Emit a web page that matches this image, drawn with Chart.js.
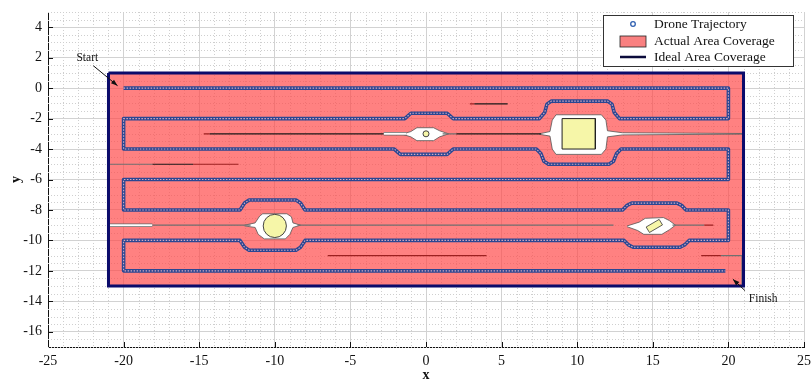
<!DOCTYPE html>
<html>
<head>
<meta charset="utf-8">
<script src="https://cdn.jsdelivr.net/npm/chart.js@4.4.0/dist/chart.umd.min.js"></script>
<style>
  html, body { margin: 0; padding: 0; background: #fff; }
</style>
</head>
<body>
<canvas id="coverageChart" width="811" height="380"></canvas>
<script>
// Axis ticks
let xTicks = [-25, -20, -15, -10, -5, 0, 5, 10, 15, 20, 25];
let yTicks = [-16, -14, -12, -10, -8, -6, -4, -2, 0, 2, 4];

let seriesNames = ["Drone Trajectory", "Actual Area Coverage", "Ideal Area Coverage"];

// Drone trajectory waypoints (lawnmower sweep with detours)
let trajX = [-20, 20, 20,
             12.8, 12.45, 12.3, 12.0, 8.3, 8.0, 7.85, 7.5,
             1.8, 1.4, -1.0, -1.4,
             -20, -20,
             -2.1, -1.7, 1.4, 1.8,
             7.3, 7.6, 7.8, 8.1, 12.1, 12.4, 12.6, 12.9,
             20, 20, -20, -20,
             -12.3, -12.0, -11.7, -8.6, -8.3, -8.0,
             13.0, 13.3, 13.6, 16.6, 16.9, 17.2,
             20, 20,
             17.4, 17.1, 16.8, 13.7, 13.4, 13.1,
             -8.0, -8.3, -8.6, -11.7, -12.0, -12.3,
             -20, -20, 19.8];
let trajY = [0, 0, -2,
             -2, -1.6, -1.05, -0.85, -0.85, -1.05, -1.6, -2,
             -2, -1.65, -1.65, -2,
             -2, -4,
             -4, -4.35, -4.35, -4,
             -4, -4.3, -4.8, -5.0, -5.0, -4.8, -4.3, -4,
             -4, -6, -6, -8,
             -8, -7.55, -7.35, -7.35, -7.55, -8,
             -8, -7.7, -7.55, -7.55, -7.7, -8,
             -8, -10,
             -10, -10.3, -10.45, -10.45, -10.3, -10,
             -10, -10.45, -10.65, -10.65, -10.45, -10,
             -10, -12, -12];

// Coverage area rectangle
let areaX = [-21, 21, 21, -21, -21];
let areaY = [1, 1, -13, -13, 1];

// Uncovered (white) regions around obstacles
let holeDotX = [-1.5, -1.0, -0.6, 0.5, 0.9, 1.5, 0.9, 0.5, -0.6, -1.0, -1.5];
let holeDotY = [-3.0, -2.85, -2.6, -2.6, -2.8, -3.0, -3.2, -3.45, -3.45, -3.2, -3.05];
let holeSquareX = [7.5, 8.2, 8.35, 8.6, 11.6, 11.9, 12.0, 13.0, 21, 21, 13.0, 12.0, 11.9, 11.6, 8.6, 8.35, 8.2, 7.5];
let holeSquareY = [-3.0, -2.85, -2.1, -1.75, -1.75, -2.1, -2.8, -2.93, -2.98, -3.02, -3.07, -3.2, -4.0, -4.35, -4.35, -4.0, -3.15, -3.03];
let holeCircleX = [-12.0, -11.3, -11.0, -10.8, -9.2, -8.9, -8.8, -8.3, -8.8, -9.0, -9.3, -10.7, -11.1, -11.3, -12.0];
let holeCircleY = [-9.0, -8.85, -8.4, -8.25, -8.25, -8.45, -8.85, -9.0, -9.15, -9.6, -9.9, -9.9, -9.6, -9.15, -9.05];
let holeRectX = [13.3, 14.1, 14.5, 15.7, 16.1, 16.5, 16.1, 15.6, 14.4, 14.0, 13.3];
let holeRectY = [-9.05, -8.8, -8.55, -8.5, -8.7, -9.0, -9.3, -9.6, -9.6, -9.35, -9.1];

// Obstacles
let squareX = [9.0, 11.2, 11.2, 9.0, 9.0];
let squareY = [-2.0, -2.0, -4.0, -4.0, -2.0];
let rotRectX = [15.42, 15.64, 14.78, 14.56, 15.42];
let rotRectY = [-8.62, -8.98, -9.48, -9.12, -8.62];
let circleObs = [{x: -10.0, y: -9.05}];
let dotObs = [{x: 0.0, y: -3.0}];

// Thin line traces (null = gap)
let slitX = [-21, -18.1, null, -2.8, -1.3];
let slitY = [-9, -9, null, -3, -3];
let grayX = [-20.9, -18.1, null, -18.1, -11.6, null, -8.5, 12.4, null, 16.3, 18.4, null, 19.5, 20.9, null, 20.9, 20.9, null, 1.1, 2.0];
let grayY = [-5, -5, null, -9, -9, null, -9, -9, null, -9, -9, null, -11, -11, null, -11, -12.9, null, -3, -3];
let blackX = [-14.3, -2.8, null, 2.0, 7.6, null, -18.1, -15.4, null, 3.2, 5.4];
let blackY = [-3, -3, null, -3, -3, null, -5, -5, null, -1.03, -1.03];
let redX = [-14.7, -14.3, null, -15.4, -12.4, null, -6.5, 4.0, null, 18.2, 19.5, null, 18.4, 19.0, null, 2.9, 3.2];
let redY = [-3, -3, null, -5, -5, null, -11, -11, null, -11, -11, null, -9, -9, null, -1.03, -1.03];

// Annotations
let startText = {x: -22.4, y: 1.98}, startArrow = [{x: -22.0, y: 1.47}, {x: -20.4, y: 0.16}];
let finishText = {x: 22.3, y: -13.86}, finishArrow = [{x: 21.1, y: -13.3}, {x: 20.3, y: -12.55}];

const SERIF = "'Liberation Serif', 'DejaVu Serif', serif";

function pts(xs, ys) {
    return xs.map((x, i) => ({x: x, y: ys[i]}));
}

function lineSet(xs, ys, color, width, order, extra) {
    return Object.assign({
        data: pts(xs, ys), showLine: true, borderColor: color, borderWidth: width,
        pointRadius: 0, pointHitRadius: 0, fill: false, order: order, spanGaps: false
    }, extra || {});
}

function shapeSet(xs, ys, fillColor, borderColor, borderWidth, order) {
    return lineSet(xs, ys, borderColor, borderWidth, order, {fill: 'shape', backgroundColor: fillColor});
}

// Minor dotted grid under the data
const minorGrid = {
    id: 'minorGrid',
    beforeDatasetsDraw(chart) {
        const {ctx, chartArea: a, scales: {x, y}} = chart;
        ctx.save();
        ctx.strokeStyle = '#cfcfcf';
        ctx.lineWidth = 1;
        ctx.setLineDash([1, 2]);
        for (let v = -25; v <= 25; v++) {
            if (v % 5 === 0) continue;
            const px = Math.round(x.getPixelForValue(v)) + 0.5;
            ctx.beginPath(); ctx.moveTo(px, a.top); ctx.lineTo(px, a.bottom); ctx.stroke();
        }
        for (let v = -17; v <= 5; v += 0.5) {
            if (v % 2 === 0) continue;
            const py = Math.round(y.getPixelForValue(v)) + 0.5;
            ctx.beginPath(); ctx.moveTo(a.left, py); ctx.lineTo(a.right, py); ctx.stroke();
        }
        ctx.restore();
    }
};

function arrow(ctx, x1, y1, x2, y2) {
    const ang = Math.atan2(y2 - y1, x2 - x1);
    ctx.beginPath(); ctx.moveTo(x1, y1); ctx.lineTo(x2, y2); ctx.stroke();
    ctx.beginPath();
    ctx.moveTo(x2, y2);
    ctx.lineTo(x2 - 7 * Math.cos(ang - 0.35), y2 - 7 * Math.sin(ang - 0.35));
    ctx.lineTo(x2 - 7 * Math.cos(ang + 0.35), y2 - 7 * Math.sin(ang + 0.35));
    ctx.closePath(); ctx.fill();
}

// Inward ticks, legend box and Start/Finish labels
const overlay = {
    id: 'overlay',
    afterDraw(chart) {
        const {ctx, chartArea: a, scales: {x, y}} = chart;
        ctx.save();
        ctx.strokeStyle = '#111';
        ctx.lineWidth = 1;
        xTicks.forEach(v => {
            const px = Math.round(x.getPixelForValue(v)) + 0.5;
            ctx.beginPath(); ctx.moveTo(px, a.bottom); ctx.lineTo(px, a.bottom - 5); ctx.stroke();
        });
        yTicks.forEach(v => {
            const py = Math.round(y.getPixelForValue(v)) + 0.5;
            ctx.beginPath(); ctx.moveTo(a.left, py); ctx.lineTo(a.left + 5, py); ctx.stroke();
        });

        // annotations
        ctx.fillStyle = '#111';
        ctx.font = '11.5px ' + SERIF;
        ctx.textAlign = 'center';
        ctx.textBaseline = 'middle';
        ctx.fillText('Start', x.getPixelForValue(startText.x), y.getPixelForValue(startText.y));
        ctx.fillText('Finish', x.getPixelForValue(finishText.x), y.getPixelForValue(finishText.y));
        arrow(ctx, x.getPixelForValue(startArrow[0].x), y.getPixelForValue(startArrow[0].y),
                   x.getPixelForValue(startArrow[1].x), y.getPixelForValue(startArrow[1].y));
        arrow(ctx, x.getPixelForValue(finishArrow[0].x), y.getPixelForValue(finishArrow[0].y),
                   x.getPixelForValue(finishArrow[1].x), y.getPixelForValue(finishArrow[1].y));

        // legend
        const bx = 603.5, by = 15.5, bw = 190, bh = 51;
        ctx.fillStyle = '#fff';
        ctx.fillRect(bx, by, bw, bh);
        ctx.strokeStyle = '#333';
        ctx.strokeRect(bx, by, bw, bh);
        ctx.font = '13.5px ' + SERIF;
        ctx.textAlign = 'left';
        ctx.fillStyle = '#111';
        const rows = [24, 41, 57];
        seriesNames.forEach((name, i) => ctx.fillText(name, 654, rows[i] + 0.5));
        ctx.strokeStyle = '#2f5fb0';
        ctx.lineWidth = 1.3;
        ctx.beginPath(); ctx.arc(633, rows[0], 2.3, 0, Math.PI * 2); ctx.stroke();
        ctx.fillStyle = '#f98080';
        ctx.fillRect(620, 36, 26, 11);
        ctx.strokeStyle = '#222';
        ctx.lineWidth = 0.8;
        ctx.strokeRect(620, 36, 26, 11);
        ctx.strokeStyle = '#0b0b3b';
        ctx.lineWidth = 2.5;
        ctx.beginPath(); ctx.moveTo(620, rows[2]); ctx.lineTo(646, rows[2]); ctx.stroke();
        ctx.restore();
    }
};

let ctx = document.getElementById('coverageChart').getContext('2d');
let coverageChart = new Chart(ctx, {
    type: 'scatter',
    data: {
        datasets: [
            shapeSet(areaX, areaY, 'rgba(255, 70, 70, 0.68)', 'rgba(0,0,0,0)', 0, 100),
            shapeSet(holeDotX, holeDotY, '#ffffff', '#555', 0.8, 90),
            shapeSet(holeSquareX, holeSquareY, '#ffffff', '#555', 0.8, 90),
            shapeSet(holeCircleX, holeCircleY, '#ffffff', '#555', 0.8, 90),
            shapeSet(holeRectX, holeRectY, '#ffffff', '#555', 0.8, 90),
            lineSet(slitX, slitY, '#666', 3.5, 86),
            lineSet(slitX, slitY, '#ffffff', 2, 85),
            lineSet(grayX, grayY, '#707070', 1.2, 80),
            lineSet(blackX, blackY, '#1a1a1a', 1.2, 80),
            lineSet(redX, redY, '#9c2020', 1.2, 80),
            lineSet(areaX, areaY, '#0b0b6b', 3, 70, {borderJoinStyle: 'miter'}),
            shapeSet(squareX, squareY, '#f6f6a8', '#222', 1, 60),
            shapeSet(rotRectX, rotRectY, '#f6f6a8', '#333', 0.8, 60),
            {data: circleObs, pointRadius: 11.6, pointBackgroundColor: '#f6f6a8', pointBorderColor: '#444',
             pointBorderWidth: 1, order: 60},
            {data: dotObs, pointRadius: 3, pointBackgroundColor: '#f6f6a8', pointBorderColor: '#444',
             pointBorderWidth: 1, order: 60},
            lineSet(trajX, trajY, '#2a4793', 3.6, 50, {borderJoinStyle: 'round'}),
            lineSet(trajX, trajY, '#d9a9bd', 1.1, 49, {borderDash: [1.5, 1.5]})
        ]
    },
    options: {
        responsive: false,
        animation: false,
        events: [],
        layout: {autoPadding: false, padding: {top: 12, right: 7, left: 0, bottom: 0}},
        plugins: {legend: {display: false}, tooltip: {enabled: false}},
        scales: {
            x: {
                type: 'linear', min: -25, max: 25,
                afterBuildTicks: s => { s.ticks = xTicks.map(v => ({value: v})); },
                afterFit: s => { s.height = 33; s.paddingLeft = 0; s.paddingRight = 0; },
                ticks: {font: {family: SERIF, size: 14}, color: '#111', padding: 6, maxRotation: 0, autoSkip: false},
                grid: {color: '#d2d2d2', lineWidth: 1, drawTicks: false},
                border: {display: true, color: '#111', width: 1},
                title: {display: true, text: 'x', color: '#111', font: {family: SERIF, size: 14, weight: 'bold'},
                        padding: {top: 0, bottom: -4}}
            },
            y: {
                type: 'linear', min: -17, max: 5,
                afterBuildTicks: s => { s.ticks = yTicks.map(v => ({value: v})); },
                afterFit: s => { s.width = 48; s.paddingTop = 0; s.paddingBottom = 0; },
                ticks: {font: {family: SERIF, size: 14}, color: '#111', padding: 6, autoSkip: false},
                grid: {color: '#d2d2d2', lineWidth: 1, drawTicks: false},
                border: {display: true, color: '#111', width: 1},
                title: {display: true, text: 'y', color: '#111', font: {family: SERIF, size: 14, weight: 'bold'},
                        padding: {top: 8, bottom: 0}}
            }
        }
    },
    plugins: [minorGrid, overlay]
});
</script>
</body>
</html>
